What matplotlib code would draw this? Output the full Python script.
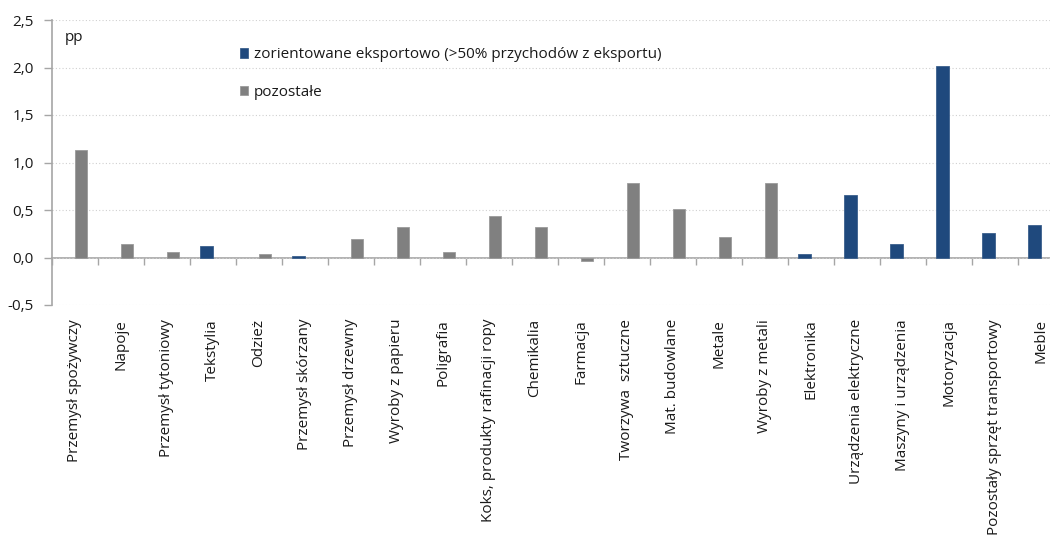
import numpy as np
import matplotlib
matplotlib.use("Agg")
import matplotlib.pyplot as plt

categories = ["Przemysł spożywczy", "Napoje", "Przemysł tytoniowy", "Tekstylia", "Odzież",
              "Przemysł skórzany", "Przemysł drzewny", "Wyroby z papieru", "Poligrafia",
              "Koks, produkty rafinacji ropy", "Chemikalia", "Farmacja", "Tworzywa  sztuczne",
              "Mat. budowlane", "Metale", "Wyroby z metali", "Elektronika",
              "Urządzenia elektryczne", "Maszyny i urządzenia", "Motoryzacja",
              "Pozostały sprzęt transportowy", "Meble"]
values = [1.13, 0.14, 0.06, 0.12, 0.04, 0.02, 0.19, 0.32, 0.06, 0.44, 0.32, -0.04, 0.78,
          0.51, 0.22, 0.78, 0.04, 0.66, 0.14, 2.02, 0.26, 0.34]
export_oriented = [False, False, False, True, False, True, False, False, False, False, False,
                   False, False, False, False, False, True, True, True, True, True, True]
legend_labels = ["zorientowane eksportowo (>50% przychodów z eksportu)", "pozostałe"]
yticks = [-0.5, 0.0, 0.5, 1.0, 1.5, 2.0, 2.5]

plt.rcParams['font.family'] = ['Open Sans', 'DejaVu Sans']
BLUE = "#1f497d"
GRAY = "#808080"
AXC = "#a6a6a6"
TXT = "#1a1a1a"
FS = 11

fig = plt.figure(figsize=(10.5, 5.36), dpi=100)
ax = fig.add_axes([51.7 / 1050, 231 / 536, 1012 / 1050, 285 / 536])

x = np.arange(len(categories))
vals = np.array(values)
exp = np.array(export_oriented)
w = 0.267
ax.bar(x[exp] - w / 2, vals[exp], width=w, color=BLUE, edgecolor="#3b5f8c", linewidth=0.6,
       label=legend_labels[0], zorder=3)
ax.bar(x[~exp] + w / 2, vals[~exp], width=w, color=GRAY, edgecolor="#9a9a9a", linewidth=0.6,
       label=legend_labels[1], zorder=3)

ax.set_xlim(-0.5, len(categories) - 0.5)
ax.set_ylim(-0.5, 2.5)
ax.set_yticks(yticks)
ax.set_yticklabels([f"{v:.1f}".replace(".", ",") for v in yticks], fontsize=FS, color=TXT)
ax.yaxis.grid(True, linestyle=(0, (1, 2)), color="#d0d0d0", linewidth=0.8, zorder=0)
ax.tick_params(axis="y", direction="out", length=6, color=AXC, width=1, pad=7)

for s in ["top", "right", "bottom"]:
    ax.spines[s].set_visible(False)
ax.spines["left"].set_color(AXC)
ax.spines["left"].set_linewidth(1.2)

ax.set_xticks(x)
ax.set_xticklabels(categories, rotation=90, fontsize=FS, color=TXT, va="top", ha="center")
ax.tick_params(axis="x", length=0, pad=10)

# zero line with category separator ticks
ylo, yhi = ax.get_ylim()
sec = ax.secondary_xaxis((0 - ylo) / (yhi - ylo))
sec.set_xticks(np.arange(len(categories) + 1) - 0.5)
sec.set_xticklabels([])
sec.tick_params(axis="x", direction="out", length=5, color=AXC, width=1)
sec.spines["bottom"].set_color(AXC)
sec.spines["bottom"].set_linewidth(1.2)
sec.spines["bottom"].set_zorder(4)

ax.text(0.013, 0.94, "pp", transform=ax.transAxes, fontsize=FS, color=TXT, va="center", ha="left")

leg = ax.legend(loc="upper left", bbox_to_anchor=(0.172, 0.952), frameon=False, fontsize=FS,
                handlelength=0.55, handleheight=0.55, handletextpad=0.4, labelspacing=1.45)
for t in leg.get_texts():
    t.set_color(TXT)

fig.savefig("out.png", dpi=100)
